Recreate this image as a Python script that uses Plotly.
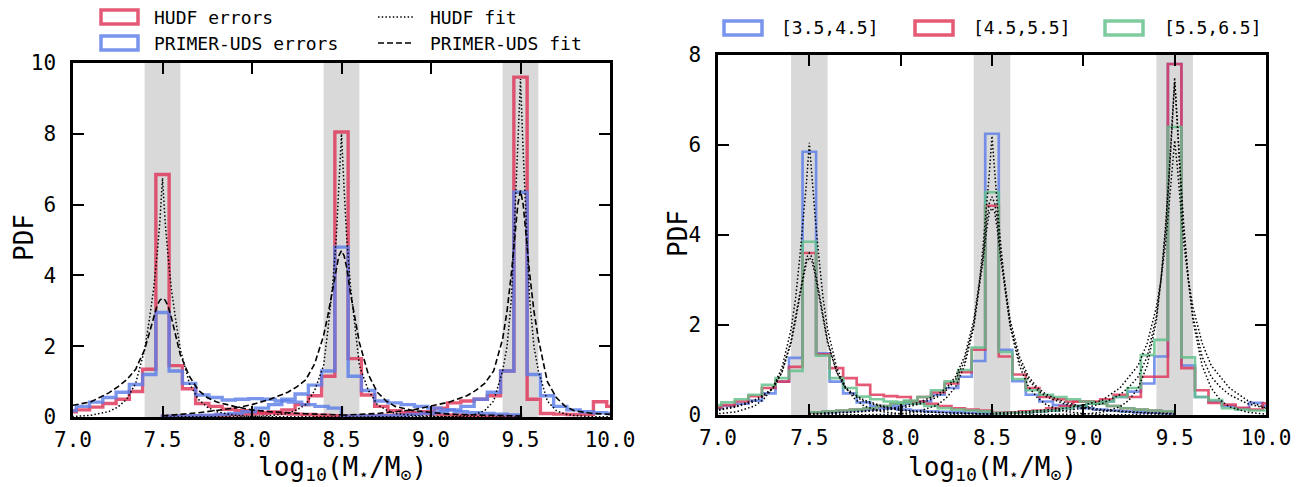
import plotly.graph_objects as go

# ---------------- data ----------------
TRUE_MASSES = [7.5, 8.5, 9.5]
BIN_SPAN = 2.0          # each histogram spans truth +/- 1 dex
# histogram bin values (27 bins per histogram, left -> right)
HUDF_75 = [0.05, 0.05, 0.06, 0.07, 0.09, 0.12, 0.15, 0.2, 0.28, 0.38, 0.5, 0.72, 1.35,
           6.85, 1.45, 0.8, 0.38, 0.3, 0.22, 0.18, 0.15, 0.12, 0.1, 0.08, 0.07, 0.05, 0.04]
HUDF_85 = [0.02, 0.03, 0.03, 0.04, 0.05, 0.06, 0.08, 0.1, 0.14, 0.2, 0.35, 0.6, 1.15,
           8.05, 1.65, 0.62, 0.3, 0.18, 0.12, 0.1, 0.08, 0.06, 0.05, 0.04, 0.03, 0.03, 0.02]
HUDF_95 = [0.03, 0.03, 0.04, 0.05, 0.06, 0.1, 0.15, 0.25, 0.4, 0.45, 0.5, 0.6, 1.3,
           9.6, 0.5, 0.1, 0.08, 0.07, 0.07, 0.43, 0.3, 0.25, 0.2, 0.15, 0.1, 0.08, 0.05]
UDS_75 = [0.06, 0.07, 0.08, 0.1, 0.12, 0.15, 0.18, 0.3, 0.42, 0.55, 0.7, 0.92, 1.2,
          2.95, 1.3, 0.95, 0.62, 0.55, 0.48, 0.5, 0.52, 0.5, 0.45, 0.42, 0.35, 0.3, 0.25]
UDS_85 = [0.02, 0.03, 0.04, 0.05, 0.07, 0.1, 0.15, 0.25, 0.35, 0.5, 0.65, 0.9, 1.3,
          4.8, 1.15, 0.75, 0.45, 0.4, 0.35, 0.3, 0.25, 0.2, 0.15, 0.12, 0.1, 0.08, 0.06]
UDS_95 = [0.02, 0.03, 0.03, 0.04, 0.05, 0.07, 0.1, 0.14, 0.2, 0.3, 0.5, 0.7, 1.3,
          6.35, 1.2, 0.6, 0.3, 0.2, 0.15, 0.12, 0.1, 0.08, 0.07, 0.06, 0.05, 0.04, 0.03]

# right panel, three z-bins
Z35_75 = [0.05, 0.06, 0.07, 0.08, 0.1, 0.12, 0.15, 0.2, 0.25, 0.32, 0.48, 0.74, 1.27,
          5.85, 1.37, 0.74, 0.48, 0.28, 0.2, 0.15, 0.12, 0.1, 0.08, 0.07, 0.06, 0.05, 0.04]
Z35_85 = [0.05, 0.06, 0.08, 0.1, 0.12, 0.15, 0.2, 0.25, 0.3, 0.45, 0.6, 0.85, 1.2,
          6.25, 1.45, 0.75, 0.45, 0.3, 0.22, 0.2, 0.15, 0.12, 0.1, 0.08, 0.06, 0.05, 0.04]
Z35_95 = [0.04, 0.05, 0.06, 0.08, 0.1, 0.15, 0.2, 0.25, 0.3, 0.4, 0.52, 0.7, 1.3,
          7.8, 1.1, 0.4, 0.3, 0.2, 0.15, 0.27, 0.2, 0.1, 0.08, 0.06, 0.05, 0.04, 0.03]
Z45_75 = [0.05, 0.06, 0.07, 0.08, 0.1, 0.13, 0.17, 0.22, 0.3, 0.42, 0.6, 0.74, 1.07,
          3.6, 1.35, 1.04, 0.82, 0.67, 0.45, 0.42, 0.4, 0.3, 0.25, 0.2, 0.15, 0.12, 0.1]
Z45_85 = [0.06, 0.08, 0.1, 0.12, 0.15, 0.2, 0.25, 0.3, 0.4, 0.5, 0.7, 0.95, 1.45,
          4.65, 1.3, 0.9, 0.6, 0.4, 0.35, 0.3, 0.3, 0.25, 0.2, 0.15, 0.12, 0.1, 0.08]
Z45_95 = [0.05, 0.06, 0.08, 0.1, 0.15, 0.2, 0.3, 0.3, 0.35, 0.45, 0.4, 0.85, 0.85,
          7.8, 1.04, 0.55, 0.27, 0.23, 0.16, 0.12, 0.26, 0.1, 0.08, 0.06, 0.05, 0.04, 0.03]
Z55_75 = [0.06, 0.07, 0.09, 0.11, 0.14, 0.17, 0.22, 0.28, 0.35, 0.45, 0.67, 0.82, 0.98,
          3.85, 1.32, 0.82, 0.6, 0.41, 0.35, 0.3, 0.28, 0.25, 0.2, 0.15, 0.12, 0.1, 0.08]
Z55_85 = [0.06, 0.08, 0.1, 0.12, 0.15, 0.2, 0.25, 0.32, 0.4, 0.55, 0.75, 1.0, 1.5,
          4.95, 1.4, 0.8, 0.55, 0.45, 0.4, 0.35, 0.3, 0.25, 0.2, 0.15, 0.12, 0.1, 0.08]
Z55_95 = [0.04, 0.05, 0.06, 0.08, 0.1, 0.15, 0.2, 0.25, 0.3, 0.4, 0.6, 1.33, 1.67,
          6.4, 1.28, 0.4, 0.33, 0.15, 0.12, 0.1, 0.1, 0.08, 0.06, 0.05, 0.04, 0.03, 0.02]

# fit curves, sampled at offsets (dex) from the true mass
FIT_OFFSETS = [-1.0, -0.8, -0.6, -0.5, -0.4, -0.3, -0.25, -0.2, -0.15, -0.1, -0.075, -0.05,
               -0.03, -0.015, 0.0, 0.015, 0.03, 0.05, 0.075, 0.1, 0.15, 0.2, 0.25, 0.3,
               0.4, 0.5, 0.6, 0.8, 1.0]
HUDF_FIT_75 = [0.002, 0.005, 0.01, 0.015, 0.05, 0.15, 0.28, 0.5, 0.95, 1.9, 2.7, 3.6, 4.6, 5.5,
               6.75, 5.5, 4.6, 3.6, 2.7, 1.9, 0.95, 0.5, 0.28, 0.15, 0.05, 0.015, 0.01, 0.005, 0.002]
HUDF_FIT_85 = [0.001, 0.003, 0.008, 0.015, 0.04, 0.1, 0.2, 0.35, 0.75, 1.45, 2.5, 3.7, 5.0, 6.4,
               8.0, 6.4, 5.0, 3.7, 2.5, 1.45, 0.75, 0.35, 0.2, 0.1, 0.04, 0.015, 0.008, 0.003, 0.001]
HUDF_FIT_95 = [0.001, 0.002, 0.004, 0.006, 0.01, 0.04, 0.08, 0.18, 0.45, 1.3, 2.0, 3.4, 5.8, 7.5,
               9.55, 7.5, 5.8, 3.4, 2.0, 1.3, 0.45, 0.18, 0.08, 0.04, 0.01, 0.006, 0.004, 0.002, 0.001]
UDS_FIT_75 = [0.06, 0.12, 0.2, 0.33, 0.43, 0.68, 0.85, 1.05, 1.35, 1.9, 2.35, 2.8, 3.15, 3.3,
              3.35, 3.3, 3.15, 2.8, 2.3, 1.75, 1.15, 0.76, 0.55, 0.43, 0.3, 0.2, 0.15, 0.09, 0.06]
UDS_FIT_85 = [0.03, 0.12, 0.25, 0.35, 0.5, 0.7, 0.85, 1.05, 1.5, 2.3, 2.9, 3.6, 4.2, 4.55,
              4.7, 4.55, 4.2, 3.5, 2.8, 2.1, 1.2, 0.7, 0.45, 0.3, 0.18, 0.12, 0.08, 0.05, 0.03]
UDS_FIT_95 = [0.05, 0.1, 0.2, 0.3, 0.42, 0.6, 0.75, 0.95, 1.3, 2.2, 3.0, 4.1, 5.2, 6.0,
              6.4, 6.0, 5.2, 4.1, 3.0, 2.2, 1.0, 0.55, 0.3, 0.18, 0.1, 0.07, 0.05, 0.03, 0.02]

Z35_FIT_75 = [0.001, 0.003, 0.01, 0.03, 0.07, 0.2, 0.35, 0.6, 1.05, 1.9, 2.6, 3.6, 4.5, 5.2,
              6.05, 5.2, 4.5, 3.6, 2.6, 1.9, 1.05, 0.6, 0.35, 0.2, 0.07, 0.03, 0.01, 0.003, 0.001]
Z35_FIT_85 = [0.001, 0.003, 0.01, 0.03, 0.08, 0.22, 0.38, 0.62, 1.1, 1.95, 2.7, 3.7, 4.6, 5.35,
              6.2, 5.35, 4.6, 3.7, 2.7, 1.95, 1.1, 0.62, 0.38, 0.22, 0.08, 0.03, 0.01, 0.003, 0.001]
Z35_FIT_95 = [0.001, 0.002, 0.008, 0.02, 0.06, 0.18, 0.33, 0.6, 1.1, 2.1, 3.0, 4.2, 5.4, 6.4,
              7.5, 6.4, 5.4, 4.2, 3.0, 2.1, 1.1, 0.6, 0.33, 0.18, 0.06, 0.02, 0.008, 0.002, 0.001]
Z45_FIT_75 = [0.02, 0.04, 0.08, 0.12, 0.2, 0.33, 0.45, 0.6, 0.95, 1.6, 2.1, 2.7, 3.15, 3.4,
              3.5, 3.4, 3.15, 2.7, 2.1, 1.6, 0.95, 0.6, 0.45, 0.33, 0.2, 0.12, 0.08, 0.04, 0.02]
Z45_FIT_85 = [0.02, 0.05, 0.1, 0.15, 0.24, 0.4, 0.55, 0.78, 1.2, 2.0, 2.7, 3.4, 4.1, 4.5,
              4.6, 4.5, 4.1, 3.4, 2.7, 2.0, 1.2, 0.78, 0.55, 0.4, 0.24, 0.15, 0.1, 0.05, 0.02]
Z45_FIT_95 = [0.02, 0.05, 0.1, 0.15, 0.25, 0.45, 0.62, 0.85, 1.3, 2.2, 3.0, 4.1, 5.3, 6.5,
              7.4, 6.5, 5.3, 4.1, 3.0, 2.2, 1.3, 0.85, 0.62, 0.45, 0.25, 0.15, 0.1, 0.05, 0.02]
Z55_FIT_75 = [0.02, 0.04, 0.07, 0.1, 0.18, 0.3, 0.42, 0.58, 0.95, 1.65, 2.2, 2.8, 3.25, 3.5,
              3.6, 3.5, 3.25, 2.8, 2.2, 1.65, 0.95, 0.58, 0.42, 0.3, 0.18, 0.1, 0.07, 0.04, 0.02]
Z55_FIT_85 = [0.03, 0.06, 0.12, 0.18, 0.28, 0.45, 0.6, 0.85, 1.3, 2.1, 2.8, 3.5, 4.3, 4.7,
              4.85, 4.7, 4.3, 3.5, 2.8, 2.1, 1.3, 0.85, 0.6, 0.45, 0.28, 0.18, 0.12, 0.06, 0.03]
Z55_FIT_95 = [0.04, 0.08, 0.15, 0.22, 0.32, 0.6, 0.85, 1.1, 1.6, 2.4, 3.0, 3.8, 4.7, 5.5,
              6.1, 5.5, 4.7, 3.8, 3.0, 2.4, 1.6, 1.1, 0.85, 0.6, 0.32, 0.15, 0.08, 0.04, 0.02]

LEFT_LEGEND = ["HUDF errors", "PRIMER-UDS errors", "HUDF fit", "PRIMER-UDS fit"]
RIGHT_LEGEND = ["[3.5,4.5]", "[4.5,5.5]", "[5.5,6.5]"]
X_TITLE = "log<sub>10</sub>(M<sub>⋆</sub>/M<sub>⊙</sub>)"
Y_TITLE = "PDF"

# ---------------- style ----------------
W, H = 1302, 487
RED = "rgba(222,52,88,0.82)"
BLUE = "rgba(92,126,232,0.82)"
GREEN = "rgba(96,192,138,0.82)"
FONT = "DejaVu Sans Mono"


def px_x(p):
    return p / W


def px_y(p):
    return 1 - p / H


def hist_xy(truth, vals):
    w = BIN_SPAN / len(vals)
    edges = [truth - BIN_SPAN / 2 + k * w for k in range(len(vals) + 1)]
    xs = [edges[0]] + edges[:-1] + [edges[-1]]
    ys = [0] + list(vals) + [0]
    return xs, ys


fig = go.Figure()


def add_hist(vals_list, color, width, xa, ya):
    for truth, vals in zip(TRUE_MASSES, vals_list):
        xs, ys = hist_xy(truth, vals)
        fig.add_trace(go.Scatter(x=xs, y=ys, mode="lines", line=dict(color=color, width=width, shape="hv"),
                                 xaxis=xa, yaxis=ya, showlegend=False, hoverinfo="skip"))


def add_fit(vals_list, dash, width, xa, ya):
    for truth, vals in zip(TRUE_MASSES, vals_list):
        xs = [truth + o for o in FIT_OFFSETS]
        fig.add_trace(go.Scatter(x=xs, y=vals, mode="lines", line=dict(color="black", width=width, dash=dash),
                                 xaxis=xa, yaxis=ya, showlegend=False, hoverinfo="skip"))


DOT = "1.5px,2.2px"
DASH = "6px,3px"

# left panel
add_hist([HUDF_75, HUDF_85, HUDF_95], RED, 3.4, "x", "y")
add_hist([UDS_75, UDS_85, UDS_95], BLUE, 3.4, "x", "y")
add_fit([HUDF_FIT_75, HUDF_FIT_85, HUDF_FIT_95], DOT, 1.5, "x", "y")
add_fit([UDS_FIT_75, UDS_FIT_85, UDS_FIT_95], DASH, 1.6, "x", "y")

# right panel
add_hist([Z35_75, Z35_85, Z35_95], BLUE, 2.7, "x2", "y2")
add_hist([Z45_75, Z45_85, Z45_95], RED, 2.7, "x2", "y2")
add_hist([Z55_75, Z55_85, Z55_95], GREEN, 2.7, "x2", "y2")
add_fit([Z35_FIT_75, Z35_FIT_85, Z35_FIT_95], DOT, 1.5, "x2", "y2")
add_fit([Z45_FIT_75, Z45_FIT_85, Z45_FIT_95], DOT, 1.5, "x2", "y2")
add_fit([Z55_FIT_75, Z55_FIT_85, Z55_FIT_95], DOT, 1.5, "x2", "y2")

shapes = []
for xr in ["x", "x2"]:
    for m in TRUE_MASSES:
        shapes.append(dict(type="rect", xref=xr, yref=("y" if xr == "x" else "y2") + " domain",
                           x0=m - 0.1, x1=m + 0.1, y0=0, y1=1, fillcolor="#d9d9d9",
                           line=dict(width=0), layer="below"))

annotations = []


def legend_rect(x0, y0, x1, y1, color):
    shapes.append(dict(type="rect", xref="paper", yref="paper", x0=px_x(x0), x1=px_x(x1),
                       y0=px_y(y1), y1=px_y(y0), line=dict(color=color, width=3.5),
                       fillcolor="rgba(0,0,0,0)"))


def legend_line(x0, x1, y, dash):
    shapes.append(dict(type="line", xref="paper", yref="paper", x0=px_x(x0), x1=px_x(x1),
                       y0=px_y(y), y1=px_y(y), line=dict(color="black", width=1.5, dash=dash)))


def text(x, y, t, size=18, anchor="left", angle=0):
    annotations.append(dict(x=px_x(x), y=px_y(y), xref="paper", yref="paper", text=t,
                            showarrow=False, xanchor=anchor, yanchor="middle", textangle=angle,
                            font=dict(family=FONT, size=size, color="black")))


# left legend
legend_rect(101, 10, 138, 24, RED)
text(152, 17, LEFT_LEGEND[0])
legend_rect(101, 36, 138, 50, BLUE)
text(152, 43, LEFT_LEGEND[1])
legend_line(378, 414, 17, DOT)
text(428, 17, LEFT_LEGEND[2])
legend_line(378, 414, 43, DASH)
text(428, 43, LEFT_LEGEND[3])

# right legend
for (rx, tx), col, lab in zip([(724, 779), (915, 971), (1105, 1162)], [BLUE, RED, GREEN], RIGHT_LEGEND):
    legend_rect(rx, 21, rx + 38, 35, col)
    text(tx, 28, lab)

# axis titles
text((73 + 610) / 2 + 1, 468, X_TITLE, size=26, anchor="center")
text((718 + 1266) / 2, 468, X_TITLE, size=26, anchor="center")
text(24, 238, Y_TITLE, size=26, anchor="center", angle=-90)
text(678, 234, Y_TITLE, size=26, anchor="center", angle=-90)

axis_common = dict(showline=True, linewidth=2.5, linecolor="black", mirror="ticks",
                   ticks="inside", ticklen=11, tickwidth=2.2, tickcolor="black",
                   showgrid=False, zeroline=False, automargin=False,
                   tickfont=dict(family=FONT, size=21, color="black"))

fig.update_layout(
    width=W, height=H, margin=dict(l=0, r=0, t=0, b=0, autoexpand=False),
    paper_bgcolor="white", plot_bgcolor="white",
    showlegend=False,
    xaxis=dict(domain=[px_x(73), px_x(610)], range=[7, 10], dtick=0.5, tick0=7, tickformat=".1f",
               anchor="y", ticklabelstandoff=2, **axis_common),
    yaxis=dict(domain=[1 - 417 / H, 1 - 63 / H], range=[0, 10], dtick=2, anchor="x",
               ticklabelstandoff=10, **axis_common),
    xaxis2=dict(domain=[px_x(718), px_x(1266)], range=[7, 10], dtick=0.5, tick0=7, tickformat=".1f",
                anchor="y2", ticklabelstandoff=2, **axis_common),
    yaxis2=dict(domain=[1 - 415 / H, 1 - 55 / H], range=[0, 8], dtick=2, anchor="x2",
                ticklabelstandoff=10, **axis_common),
    shapes=shapes, annotations=annotations,
)

fig.write_html("out.html")
